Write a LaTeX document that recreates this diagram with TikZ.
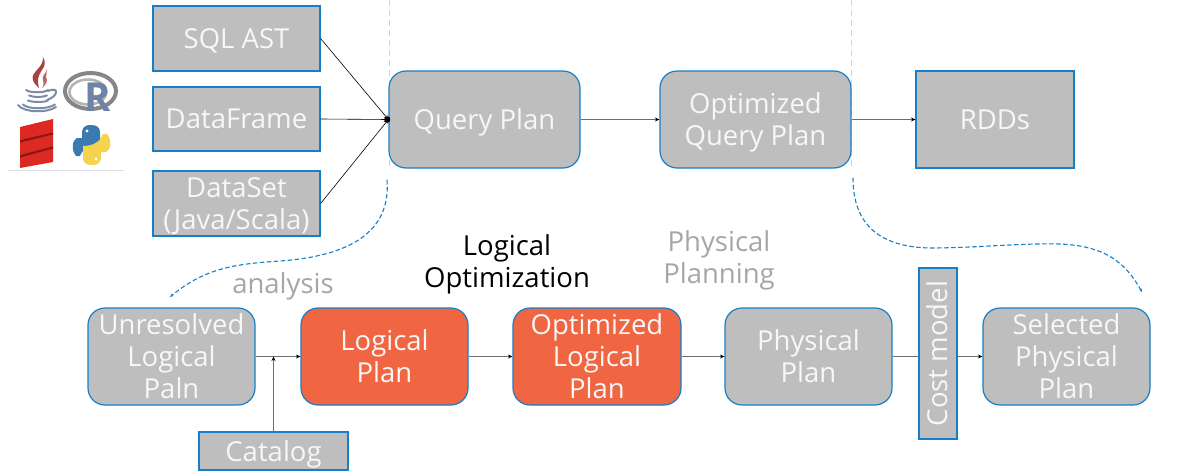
\documentclass[tikz,border=0pt]{standalone}
\usepackage{fontspec}
\setmainfont{Open Sans}
\usetikzlibrary{arrows.meta}
\definecolor{boxblue}{HTML}{1580C8}
\definecolor{boxgray}{HTML}{BEBEBE}
\definecolor{boxorange}{HTML}{F06542}
\definecolor{txtwhite}{HTML}{F7F7F7}
\definecolor{lblgray}{HTML}{A6A6A6}
\definecolor{linkgray}{HTML}{6E6E6E}
\definecolor{sepgray}{HTML}{D4D4D4}
\definecolor{slate}{HTML}{6F82A8}
\definecolor{javacup}{HTML}{7C8CA6}
\definecolor{javared}{HTML}{A8443F}
\definecolor{scalared}{HTML}{DC2A22}
\definecolor{scaladark}{HTML}{8E1612}
\definecolor{pyblue}{HTML}{3B7AB0}
\definecolor{pyyellow}{HTML}{F5D34E}
\tikzset{
  basebox/.style={draw=boxblue,line width=1.2pt,fill=boxgray,text=txtwhite,inner sep=0pt,align=center,
    font=\fontsize{27.5}{32}\selectfont,text depth=0pt},
  sqbox/.style={basebox},
  rdbox/.style={basebox,rounded corners=17pt},
  hotbox/.style={rdbox,fill=boxorange},
  link/.style={draw=linkgray,line width=0.9pt},
  arrowlink/.style={link,-{Stealth[length=4.5pt,width=4pt,color=black]}},
  flowcurve/.style={draw=boxblue,line width=1.1pt,dash pattern=on 4.5pt off 2.5pt,-{Stealth[length=3.5pt,width=3pt]}},
  sepline/.style={draw=sepgray,line width=1pt,dash pattern=on 6pt off 4pt},
  caption/.style={inner sep=0pt,align=center,font=\fontsize{27.5}{32}\selectfont,text=lblgray},
}
\begin{document}
\begin{tikzpicture}[x=1pt,y=-1pt]
\useasboundingbox (0,0) rectangle (1181,474);
% separators
\coordinate (sepAtop) at (389,0);
\coordinate (sepAbot) at (389,168);
\coordinate (sepBtop) at (851,0);
\coordinate (sepBbot) at (851,170);
\draw[sepline] (sepAtop) -- (sepAbot);
\draw[sepline] (sepBtop) -- (sepBbot);
% top row
\node[sqbox,minimum width=167pt,minimum height=65pt] (sql) at (236.5,38.5) {SQL AST};
\node[sqbox,minimum width=167pt,minimum height=64pt] (df) at (236.5,119) {DataFrame};
\node[sqbox,minimum width=167pt,minimum height=65pt] (ds) at (236.5,203.5) {DataSet\\(Java/Scala)};
\node[rdbox,minimum width=191pt,minimum height=97pt] (qp) at (484.5,119.5) {Query Plan};
\node[rdbox,minimum width=191pt,minimum height=97pt] (oqp) at (755.5,119.5) {Optimized\\Query Plan};
\node[sqbox,minimum width=158pt,minimum height=97pt] (rdd) at (995,119.5) {RDDs};
% bottom row
\node[rdbox,minimum width=167pt,minimum height=97pt] (ulp) at (171.5,356.5) {Unresolved\\Logical\\Paln};
\node[hotbox,minimum width=167pt,minimum height=97pt] (lp) at (384.5,356.5) {Logical\\Plan};
\node[hotbox,minimum width=168pt,minimum height=97pt] (olp) at (597,356.5) {Optimized\\Logical\\Plan};
\node[rdbox,minimum width=167pt,minimum height=97pt] (pp) at (808.5,356.5) {Physical\\Plan};
\node[sqbox,minimum width=38pt,minimum height=171pt] (cm) at (938,353.5) {};
\node[text=txtwhite,rotate=90,inner sep=0pt,font=\fontsize{27.5}{32}\selectfont] (cmt) at (937,353.5) {Cost model};
\node[rdbox,minimum width=167pt,minimum height=97pt] (spp) at (1066.5,356.5) {Selected\\Physical\\Plan};
\node[sqbox,minimum width=149pt,minimum height=38pt] (cat) at (273.5,451) {Catalog};
% captions
\node[caption] (cap1) at (283,286) {analysis};
\node[caption,text=black] (cap2) at (507,264) {Logical\\Optimization};
\node[caption] (cap3) at (719,260.5) {Physical\\Planning};
% connectors
\draw[arrowlink,draw=black,line width=0.6pt] (sql.east) -- (qp.west);
\draw[arrowlink,draw=black,line width=0.6pt] (df.east) -- (qp.west);
\draw[arrowlink,draw=black,line width=0.6pt] (ds.east) -- (qp.west);
\fill[black] (qp.west) ellipse (1.8pt and 3pt);
\draw[arrowlink] (qp.east) -- (oqp.west);
\draw[arrowlink] (oqp.east) -- (rdd.west);
\draw[arrowlink] (ulp.east) -- (lp.west);
\coordinate (join) at (cat.north |- ulp.east);
\draw[arrowlink] (cat.north) -- (join);
\draw[arrowlink] (lp.east) -- (olp.west);
\draw[arrowlink] (olp.east) -- (pp.west);
\draw[link] (pp.east) -- (cm.west |- pp.east);
\draw[arrowlink] (cm.east |- spp.west) -- (spp.west);
% dashed flow curves
\coordinate (fa) at (387,180);
\coordinate (fb) at (170,297);
\coordinate (fc) at (853,178);
\coordinate (fd) at (1142,292);
\draw[flowcurve] (fa) .. controls (391,232) and (350,256) .. (280,261)
  .. controls (235,264) and (205,268) .. (fb);
\draw[flowcurve] (fc) .. controls (853,225) and (880,247) .. (930,248)
  .. controls (975,248) and (1020,243) .. (1060,244)
  .. controls (1105,246) and (1125,262) .. (fd);
% logo: Java
\fill[javared] (43,57) .. controls (44,68) and (30,72) .. (33,80) .. controls (34,84) and (37,86) .. (39,88)
  .. controls (37,80) and (38,76) .. (42,70) .. controls (45,66) and (46,62) .. (43,57) -- cycle;
\fill[javared!80] (47,69) .. controls (46,74) and (41,76) .. (43,80) .. controls (44,83) and (44,85) .. (42,88)
  .. controls (47,84) and (48,80) .. (46,77) .. controls (45,74) and (48,72) .. (47,69) -- cycle;
\begin{scope}[draw=javacup,line width=2pt,line cap=round]
\draw (26,90) .. controls (30,93) and (44,93) .. (48,90);
\draw (29,95.5) .. controls (34,97.5) and (42,97.5) .. (47,95.5);
\draw (28,100.5) .. controls (33,102.5) and (44,102.5) .. (48,100.5);
\draw (23,104.5) .. controls (28,109.5) and (48,109.5) .. (55,104.5);
\draw (18,105) .. controls (24,113) and (48,113) .. (56,107);
\draw (48,91) .. controls (59,86) and (59,96) .. (47,100);
\end{scope}
% logo: R
\draw[gray!95,line width=4pt] (90.5,91) ellipse (25.5pt and 18pt);
\draw[gray!60,line width=2.5pt] (88,92) ellipse (18.5pt and 12.5pt);
\node[text=slate,inner sep=0pt,font=\fontsize{40}{40}\selectfont\bfseries] (rlogo) at (98,97) {R};
% logo: Scala
\fill[scalared] (20,127) -- (53,119) -- (53,134) -- (20,140) -- cycle;
\fill[scalared] (20,142) -- (53,134) -- (53,148) -- (20,155) -- cycle;
\fill[scalared] (20,157) -- (53,148) -- (53,162) -- (20,168) -- cycle;
\fill[scaladark] (20,140) -- (53,132.5) -- (53,134.5) -- (20,142.5) -- cycle;
\fill[scaladark] (20,155) -- (53,146.5) -- (53,148.5) -- (20,157.5) -- cycle;
% logo: Python
\fill[pyblue] (91,125) .. controls (82,125) and (82,130) .. (82,135) -- (82,138) -- (77,138)
  .. controls (72,140) and (71,150) .. (76,156) -- (80,156) .. controls (83,148) and (90,146) .. (100,146)
  -- (100,132) .. controls (100,127) and (96,125) .. (91,125) -- cycle;
\fill[pyyellow] (92,165) .. controls (101,165) and (101,160) .. (101,155) -- (101,152) -- (106,152)
  .. controls (111,150) and (112,140) .. (107,134) -- (103,134) .. controls (100,142) and (93,146) .. (83,146)
  -- (83,158) .. controls (83,163) and (87,165) .. (92,165) -- cycle;
\fill[white] (87,131) circle (1.6pt);
\fill[white] (96,159) circle (1.6pt);
\draw[color=black!10!cyan!15!gray!30,line width=1pt] (8,170) -- (124,170);
\end{tikzpicture}
\end{document}
